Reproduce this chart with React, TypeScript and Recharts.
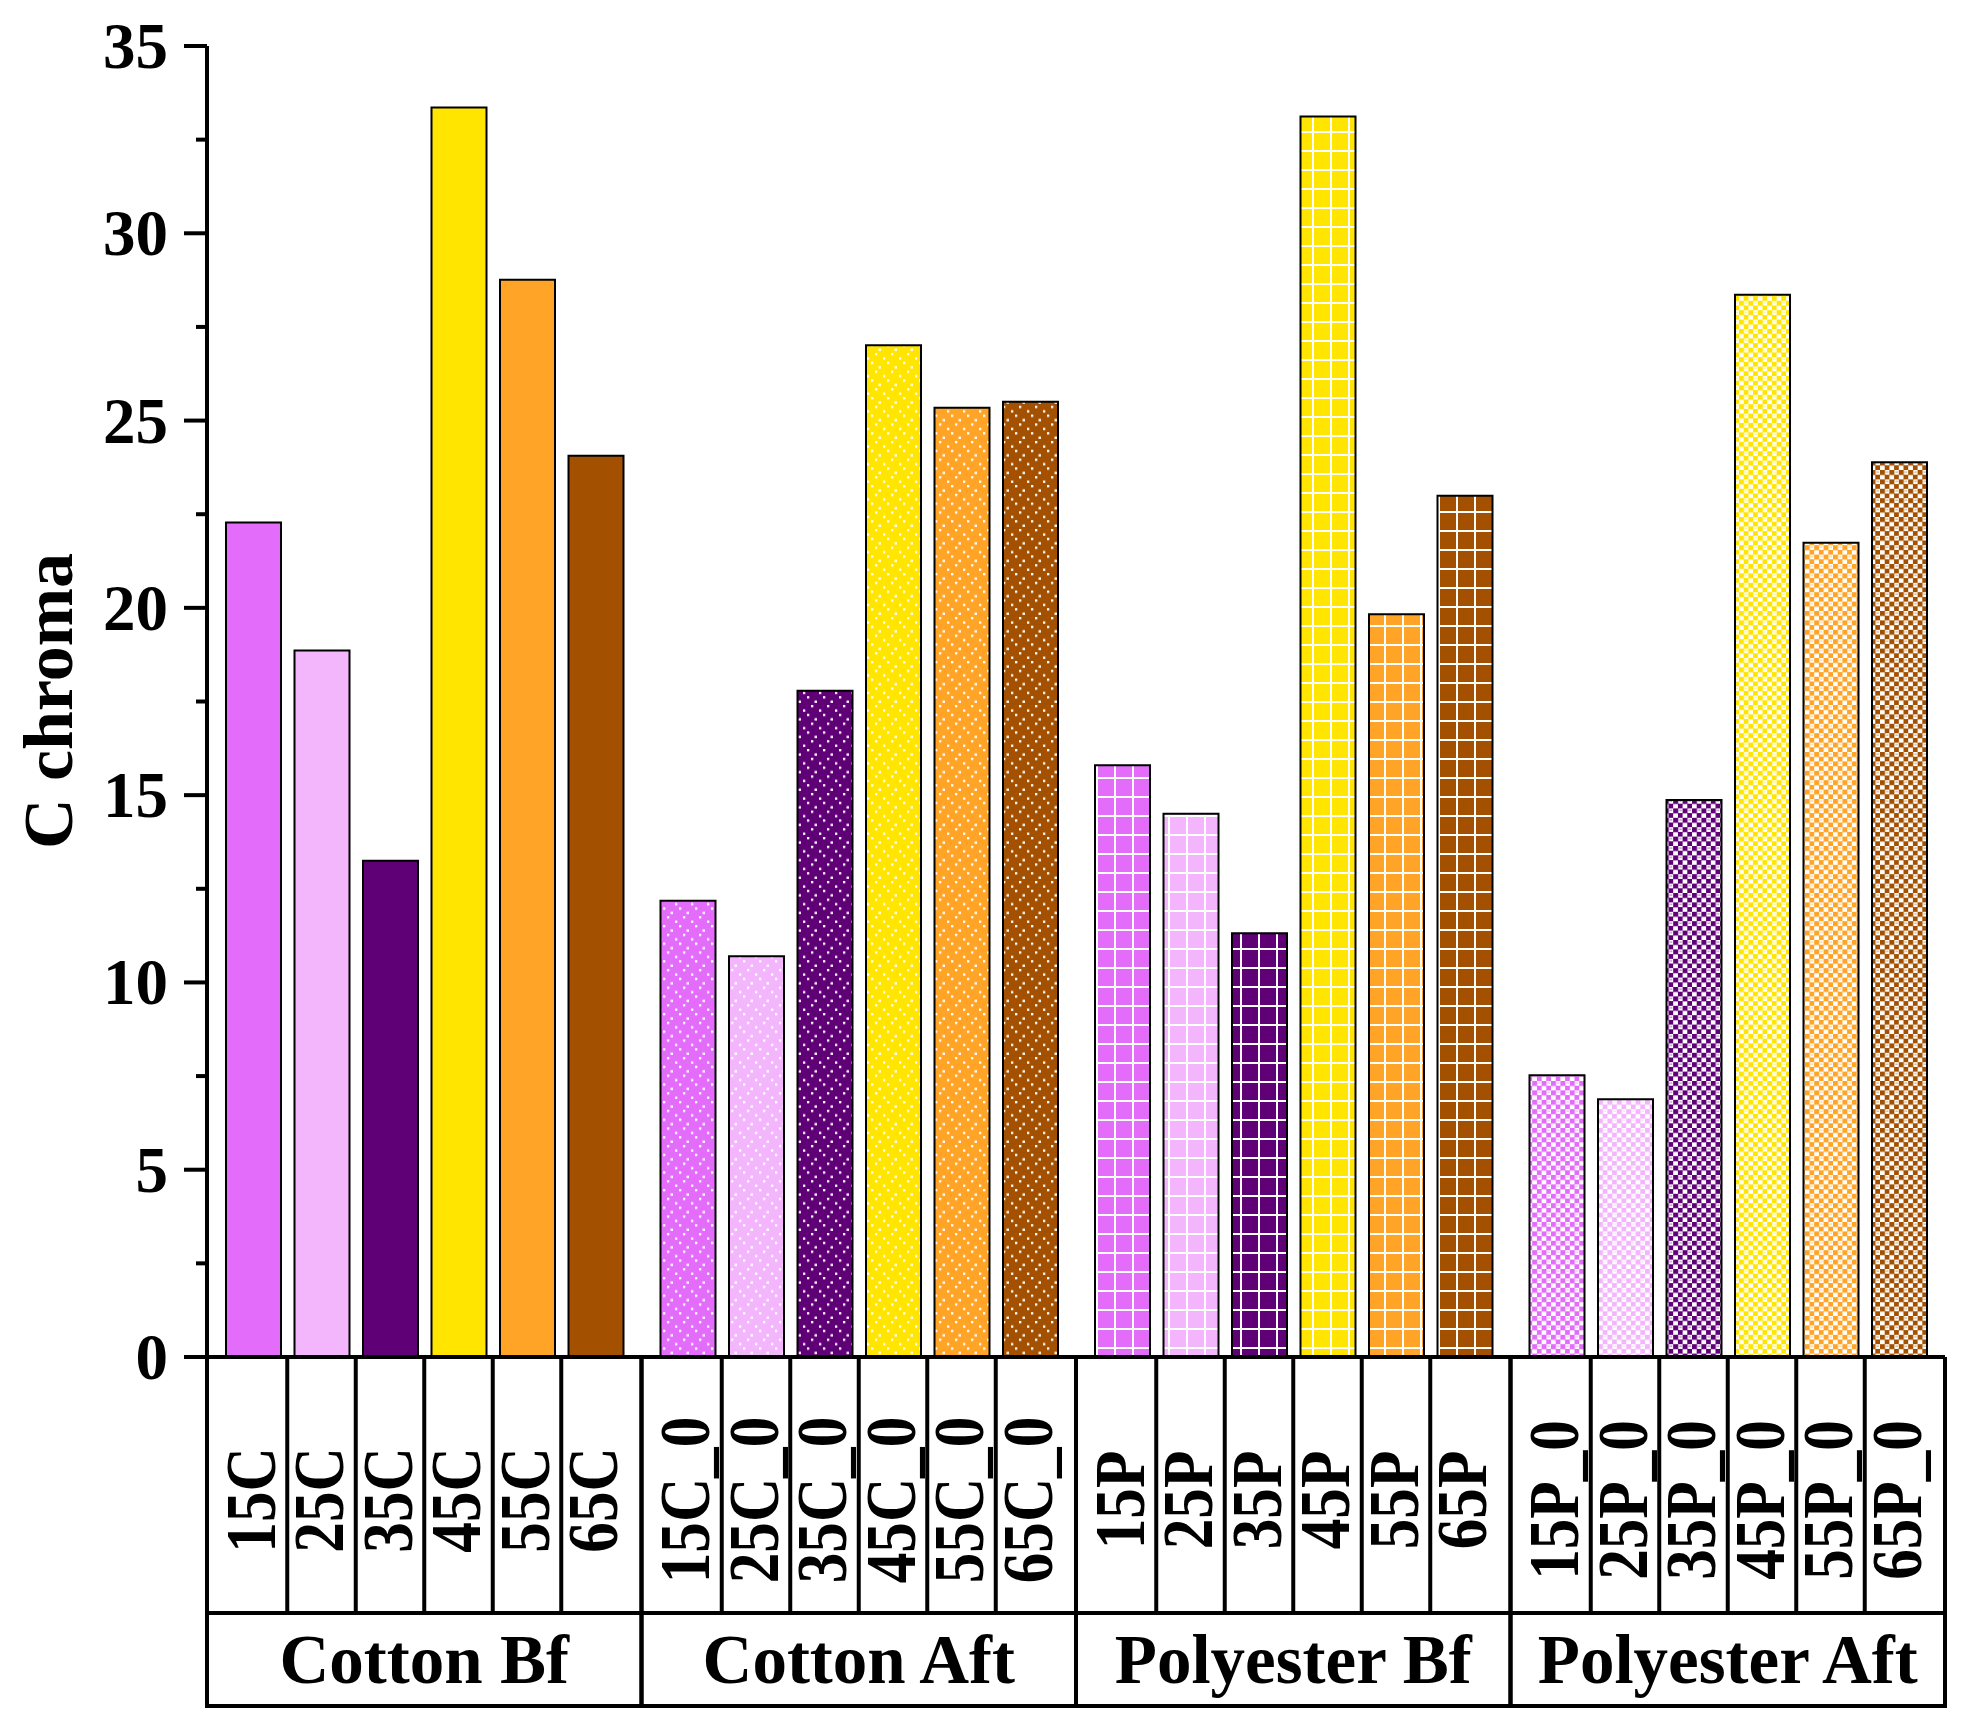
import React from 'react';
import { BarChart, Bar, Cell, XAxis, YAxis } from 'recharts';

// groups on the x axis, one bar per sample temperature inside each
const groups = ['Cotton Bf', 'Cotton Aft', 'Polyester Bf', 'Polyester Aft'];
const sampleLabels = [
  ['15C', '25C', '35C', '45C', '55C', '65C'],
  ['15C_0', '25C_0', '35C_0', '45C_0', '55C_0', '65C_0'],
  ['15P', '25P', '35P', '45P', '55P', '65P'],
  ['15P_0', '25P_0', '35P_0', '45P_0', '55P_0', '65P_0'],
];

const v15 = [22.28, 12.18, 15.8, 7.52];
const v25 = [18.86, 10.7, 14.5, 6.88];
const v35 = [13.25, 17.79, 11.31, 14.87];
const v45 = [33.36, 27.01, 33.12, 28.36];
const v55 = [28.76, 25.34, 19.83, 21.74];
const v65 = [24.06, 25.5, 22.99, 23.89];

const seriesKeys = ['s15', 's25', 's35', 's45', 's55', 's65'];
const seriesValues = [v15, v25, v35, v45, v55, v65];
const colors = ['#E36CFB', '#F3B6FC', '#5F0077', '#FFE500', '#FFA426', '#A35100'];

const yTicks = [0, 2.5, 5, 7.5, 10, 12.5, 15, 17.5, 20, 22.5, 25, 27.5, 30, 32.5, 35];

const data = groups.map((g, gi) => {
  const row: Record<string, string | number> = { group: g };
  seriesKeys.forEach((k, si) => {
    row[k] = seriesValues[si][gi];
  });
  return row;
});

const FONT = 'Liberation Serif, Times New Roman, serif';
const BAR_W = 55;
const BAR_GAP = 13.5;
const PITCH = BAR_W + BAR_GAP;
const GROUP_W = 434.5;
const LW = 4;

const fillFor = (si: number, gi: number) => {
  if (gi === 0) return colors[si];
  if (gi === 1) return `url(#dots-${si})`;
  if (gi === 2) return `url(#grid-${si})`;
  return `url(#check-${si})`;
};

const YTick = (props: any) => {
  const { x, y, payload } = props;
  const v = payload.value;
  const major = v % 5 === 0;
  return (
    <g>
      <line x1={x - (major ? 23 : 11)} x2={x} y1={y} y2={y} stroke="#000" strokeWidth={LW} />
      {major && (
        <text x={x - 39} y={y} textAnchor="end" dominantBaseline="central"
          fontFamily={FONT} fontWeight="bold" fontSize={65} fill="#000">
          {v}
        </text>
      )}
    </g>
  );
};

const GroupTick = (props: any) => {
  const { x, y, payload } = props;
  const gi = groups.indexOf(payload.value);
  const labels = sampleLabels[gi] || [];
  const half = GROUP_W / 2;
  const rowY = y + 256;
  const botY = y + 349;
  return (
    <g>
      {labels.map((lab, i) => {
        const cx = x + (i - 2.5) * PITCH;
        return (
          <text key={lab} transform={`translate(${cx - 3},${y + 143}) rotate(-90) scale(0.85,1)`}
            textAnchor="middle" dominantBaseline="central"
            fontFamily={FONT} fontWeight="bold" fontSize={72} fill="#000">
            {lab}
          </text>
        );
      })}
      {[0, 1, 2, 3, 4].map((i) => (
        <line key={i} x1={x + (i - 2) * PITCH} x2={x + (i - 2) * PITCH} y1={y} y2={rowY}
          stroke="#000" strokeWidth={LW} />
      ))}
      <line x1={x - half} x2={x - half} y1={y} y2={botY} stroke="#000" strokeWidth={LW} />
      <line x1={x + half} x2={x + half} y1={y} y2={botY} stroke="#000" strokeWidth={LW} />
      <line x1={x - half} x2={x + half} y1={rowY} y2={rowY} stroke="#000" strokeWidth={LW} />
      <line x1={x - half - 2} x2={x + half + 2} y1={botY} y2={botY} stroke="#000" strokeWidth={LW} />
      <text x={x} y={y + 303} textAnchor="middle" dominantBaseline="central"
        fontFamily={FONT} fontWeight="bold" fontSize={69} fill="#000">
        {payload.value}
      </text>
    </g>
  );
};

const Patterns = () => (
  <defs>
    {colors.map((c, si) => (
      <pattern key={`d${si}`} id={`dots-${si}`} patternUnits="userSpaceOnUse" width={16} height={17.6}>
        <rect width={16} height={17.6} fill={c} />
        <rect x={11} y={1} width={2.3} height={2.3} fill="#fff" />
        <rect x={3} y={5.4} width={2.3} height={2.3} fill="#fff" />
        <rect x={7} y={9.8} width={2.3} height={2.3} fill="#fff" />
        <rect x={14.5} y={14.2} width={2.3} height={2.3} fill="#fff" />
        <rect x={0} y={14.2} width={1} height={2.3} fill="#fff" />
      </pattern>
    ))}
    {colors.map((c, si) => (
      <pattern key={`g${si}`} id={`grid-${si}`} patternUnits="userSpaceOnUse" width={18} height={19}>
        <rect width={18} height={19} fill={c} />
        <rect x={16} y={0} width={2.2} height={19} fill="#fff" />
        <rect x={0} y={17} width={18} height={2.2} fill="#fff" />
      </pattern>
    ))}
    {colors.map((c, si) => (
      <pattern key={`c${si}`} id={`check-${si}`} patternUnits="userSpaceOnUse" width={9.4} height={9.4}>
        <rect width={9.4} height={9.4} fill="#fff" />
        <rect x={0} y={0} width={5} height={5} fill={c} />
        <rect x={4.7} y={4.7} width={5} height={5} fill={c} />
        <rect x={6} y={1.5} width={2.5} height={1} fill={c} opacity={0.6} />
      </pattern>
    ))}
  </defs>
);

export default function App() {
  return (
    <div style={{ position: 'absolute', left: 0, top: 0, background: '#fff' }}>
      <BarChart width={1968} height={1728} data={data}
        margin={{ top: 46, right: 23, left: 0, bottom: 20 }}
        barGap={BAR_GAP} barCategoryGap={18}>
        <Patterns />
        <XAxis dataKey="group" height={351} interval={0} tickSize={0} tickMargin={0}
          tickLine={false} axisLine={{ stroke: '#000', strokeWidth: LW }} tick={<GroupTick />} />
        <XAxis xAxisId="top" orientation="top" dataKey="group" height={0} tick={false}
          tickLine={false} axisLine={{ stroke: '#000', strokeWidth: LW }} />
        <YAxis width={207} domain={[0, 35]} ticks={yTicks} interval={0} tickSize={0} tickMargin={0}
          tickLine={false} axisLine={{ stroke: '#000', strokeWidth: LW }} tick={<YTick />} />
        <YAxis yAxisId="right" orientation="right" width={0} domain={[0, 35]} tick={false}
          tickLine={false} axisLine={{ stroke: '#000', strokeWidth: LW }} />
        {seriesKeys.map((k, si) => (
          <Bar key={k} dataKey={k} barSize={BAR_W} stroke="#000" strokeWidth={2}
            isAnimationActive={false}>
            {groups.map((g, gi) => (
              <Cell key={g} fill={fillFor(si, gi)} />
            ))}
          </Bar>
        ))}
        <text transform="translate(48,701) rotate(-90)" textAnchor="middle" dominantBaseline="central"
          fontFamily={FONT} fontWeight="bold" fontSize={70} fill="#000">
          C chroma
        </text>
      </BarChart>
    </div>
  );
}
